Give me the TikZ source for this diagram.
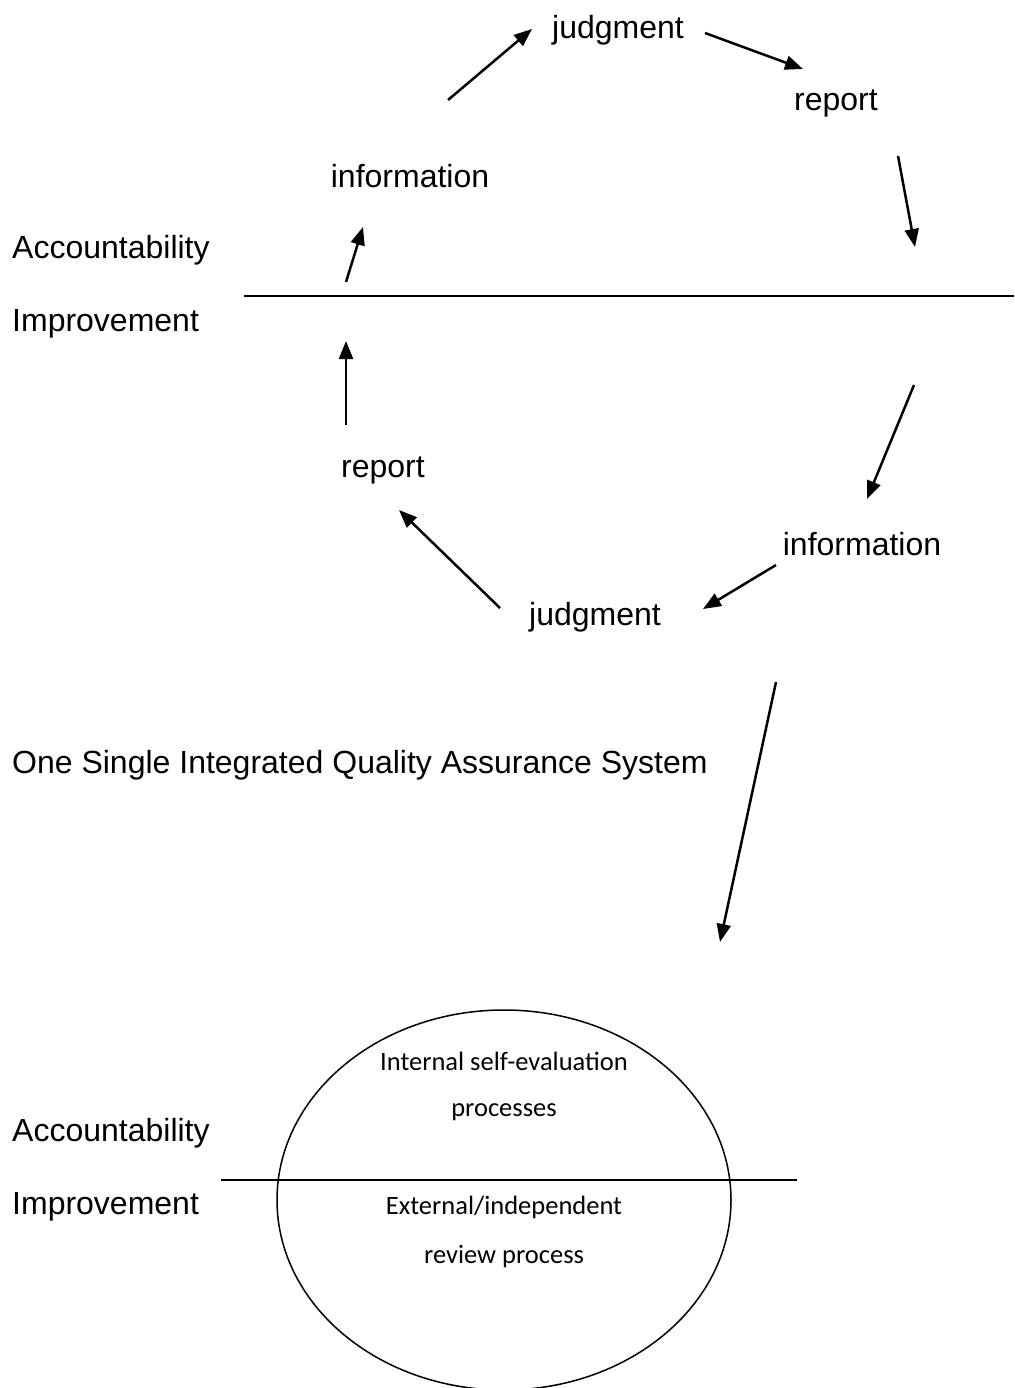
\documentclass[tikz,border=0pt]{standalone}
\usepackage{fontspec}
\setmainfont{Liberation Sans}
\newfontfamily\calibrifont{Carlito}
\usetikzlibrary{arrows.meta}

\tikzset{
    label/.style={inner sep=0pt, font=\fontsize{32}{38}\selectfont},
    side/.style={label, anchor=west},
    inside/.style={inner sep=0pt, font=\calibrifont\fontsize{26.5}{32}\selectfont},
    flow/.style={line width=2.5pt, -{Triangle[length=18pt,width=14pt]}},
    divider/.style={line width=1.7pt}
}

\begin{document}
\begin{tikzpicture}[x=1pt,y=-1pt]
\useasboundingbox (0,0) rectangle (1014,1388);
\clip (0,0) rectangle (1014,1388);

% Parameters
\def\ovalx{504}
\def\ovaly{1200}

% Upper cycle: labels
\node[label] (judgTop) at (618,30) {judgment};
\node[label] (repTop) at (836,103) {report};
\node[label] (infoTop) at (410,176) {information};
\node[label] (repLow) at (383,470) {report};
\node[label] (infoLow) at (862,544) {information};
\node[label] (judgLow) at (595,617) {judgment};

% Side labels
\node[side] (accTop) at (12,250) {Accountability};
\node[side] (impTop) at (12,324) {Improvement};
\node[side] (system) at (12,765) {One Single Integrated Quality Assurance System};
\node[side] (accLow) at (12,1133) {Accountability};
\node[side] (impLow) at (12,1207) {Improvement};

% Dividing lines
\coordinate (lineTopL) at (244,296);
\coordinate (lineTopR) at (1014,296);
\draw[divider] (lineTopL) -- (lineTopR);
\coordinate (lineLowL) at (221,1180);
\coordinate (lineLowR) at (797,1180);
\draw[divider] (lineLowL) -- (lineLowR);

% Arrow end points
\coordinate (a1) at (448,100);  \coordinate (b1) at (532,29);
\coordinate (a2) at (705,33);   \coordinate (b2) at (803,69);
\coordinate (a3) at (898,156);  \coordinate (b3) at (915,247);
\coordinate (a4) at (346,282);  \coordinate (b4) at (363,227);
\coordinate (a5) at (346,425);  \coordinate (b5) at (346,341);
\coordinate (a6) at (914,385);  \coordinate (b6) at (867,499);
\coordinate (a7) at (776,565);  \coordinate (b7) at (703,609);
\coordinate (a8) at (500,608);  \coordinate (b8) at (399,510);
\coordinate (a9) at (776,682);  \coordinate (b9) at (720,942);

% Arrows
\foreach \k in {1,...,9} {
    \draw[flow] (a\k) -- (b\k);
}

% Integrated system oval
\draw[line width=1.5pt] (\ovalx,\ovaly) ellipse (227 and 190);
\node[inside] (internA) at (\ovalx,1061) {Internal self-evaluation};
\node[inside] (internB) at (\ovalx,1112) {processes};
\node[inside] (externA) at (\ovalx,1207) {External/independent};
\node[inside] (externB) at (\ovalx,1257) {review process};
\end{tikzpicture}
\end{document}
